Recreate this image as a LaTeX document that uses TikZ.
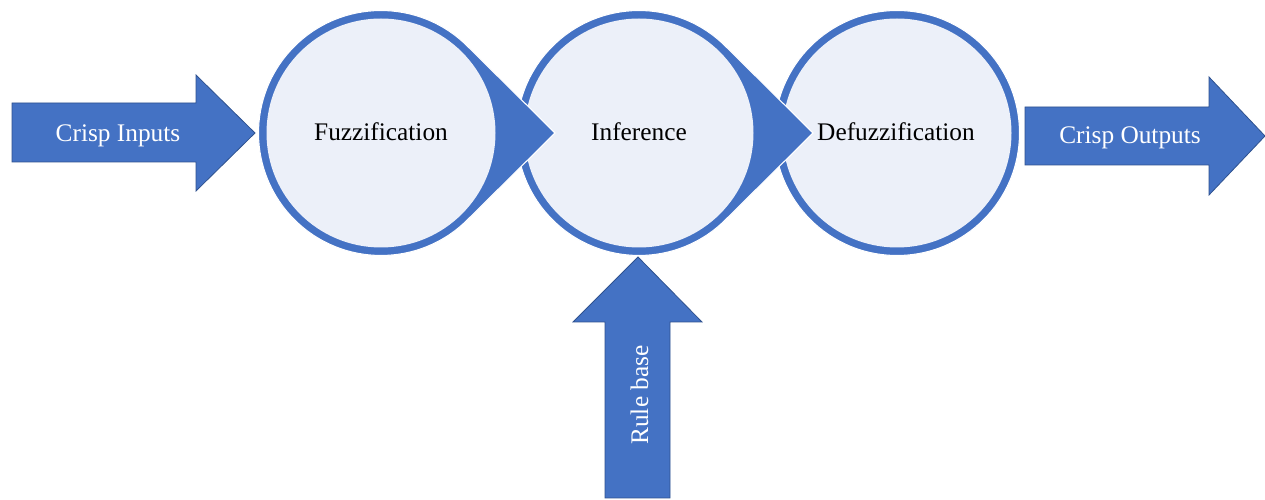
\documentclass[tikz,border=0pt]{standalone}
\usepackage{fontspec}
\setmainfont{Liberation Serif}
\definecolor{accent}{HTML}{4472C4}
\definecolor{arrowedge}{HTML}{2F528F}
\definecolor{pale}{HTML}{ECF0F9}
\tikzset{
	blockarrow/.style={fill=accent,draw=arrowedge,line width=0.6pt},
	stagering/.style={fill=accent,draw=white,line width=0.8pt},
	lbl/.style={font=\fontsize{19}{22}\selectfont,anchor=base,inner sep=0pt}
}
\begin{document}
\begin{tikzpicture}[x=0.75pt,y=0.75pt]
		\fill[white] (0,0) rectangle (1265,500);
		\useasboundingbox (0,0) rectangle (1265,500);
		%last stage, plain ring
		\draw[stagering] (897,367) circle (122.5);
		\fill[pale] (897,367) circle (114.5);
		%stages with a pointer to the next one
		\foreach \cx in {639,381} {
			\draw[stagering] (\cx,367) ++(45.5:122.5) arc[start angle=45.5,end angle=314.5,radius=122.5] -- (\cx+174,367) -- cycle;
			\fill[pale] (\cx,367) circle (114.5);
		}
		\node[lbl] (fuzz) at (381,359) {Fuzzification};
		\node[lbl] (infer) at (639,359) {Inference};
		\node[lbl] (defuzz) at (896,359) {Defuzzification};
		%inputs and outputs
		\draw[blockarrow] (12,397) -- (196,397) -- (196,425) -- (255,367) -- (196,309) -- (196,338) -- (12,338) -- cycle;
		\node[lbl,white] (inputs) at (118,358) {Crisp Inputs};
		\draw[blockarrow] (1025,393) -- (1209,393) -- (1209,423) -- (1265,364) -- (1209,305) -- (1209,335) -- (1025,335) -- cycle;
		\node[lbl,white] (outputs) at (1130,356) {Crisp Outputs};
		%rule base from below
		\draw[blockarrow] (605,2) -- (605,178) -- (573,178) -- (638,243) -- (702,178) -- (670,178) -- (670,2) -- cycle;
		\node[lbl,white,rotate=90] (rules) at (648,105) {Rule base};
\end{tikzpicture}
\end{document}
